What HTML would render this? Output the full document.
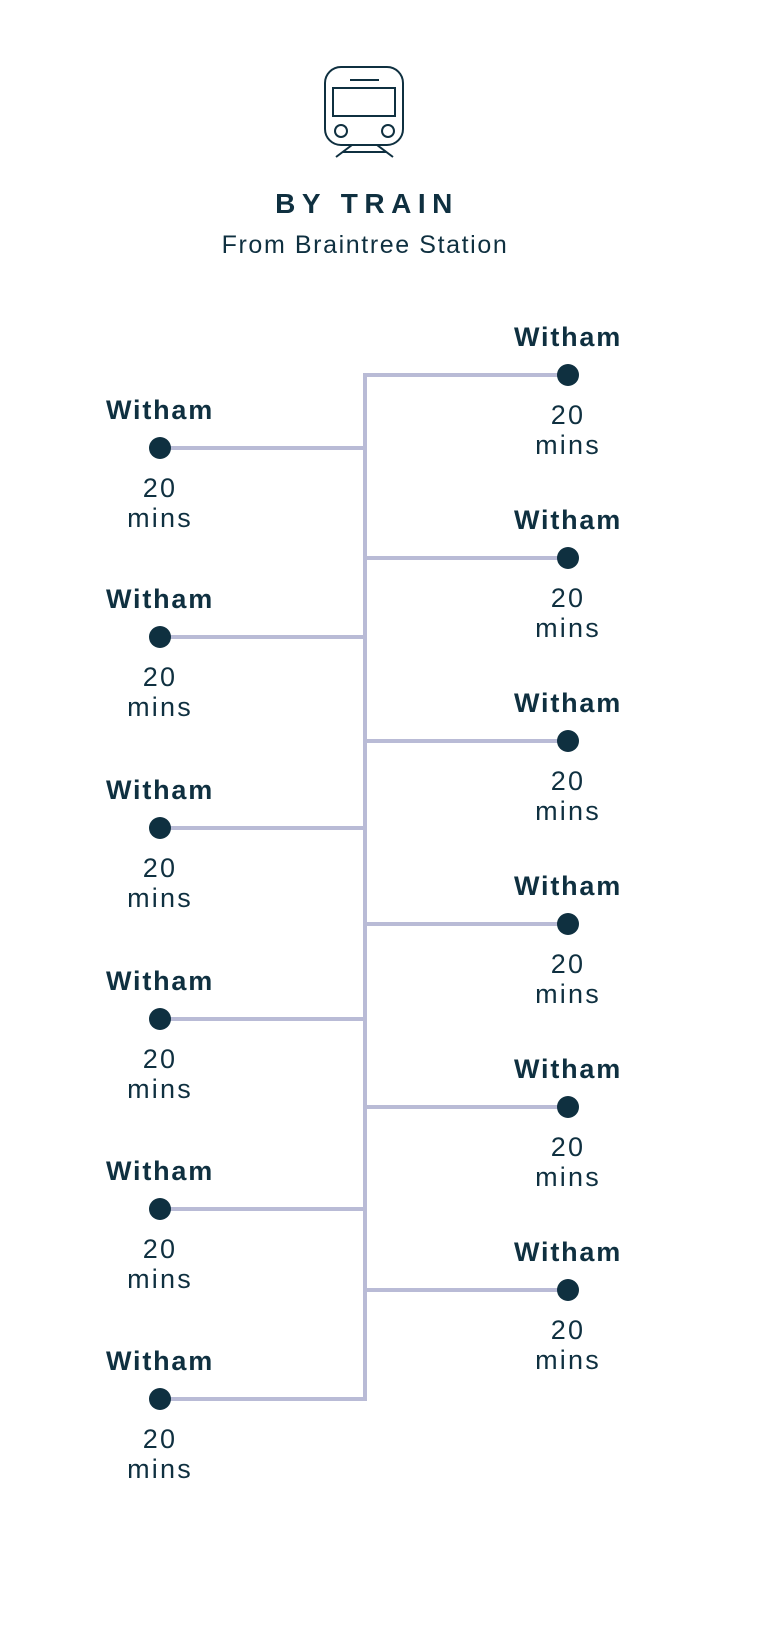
<!DOCTYPE html>
<html><head><style>
body{margin:0;background:#fff;}
svg{display:block}
text{font-family:"Liberation Sans",sans-serif;fill:#0f3040;text-anchor:middle}
.b{font-weight:bold;font-size:27px;letter-spacing:1.8px}
.n{font-size:27px;letter-spacing:2.2px}
</style></head><body>
<svg width="767" height="1650" viewBox="0 0 767 1650">
<g fill="none" stroke="#0f3040" stroke-width="2">
<rect x="325" y="67" width="78" height="78" rx="16"/>
<line x1="350" y1="80" x2="379" y2="80"/>
<rect x="333" y="88" width="62" height="28"/>
<circle cx="341" cy="131" r="6"/>
<circle cx="388" cy="131" r="6"/>
<line x1="352" y1="145" x2="336" y2="157"/>
<line x1="377" y1="145" x2="393" y2="157"/>
<line x1="343" y1="152" x2="386" y2="152"/>
</g>
<text x="367" y="213" style="font-weight:bold;font-size:28px;letter-spacing:6.5px">BY TRAIN</text>
<text x="365" y="253" style="font-size:25px;letter-spacing:1.6px">From Braintree Station</text>
<g stroke="#b9bbd6" stroke-width="4" fill="none">
<polyline points="568,375 365,375 365,1399 160,1399"/>
<line x1="160" y1="448" x2="365" y2="448"/>
<line x1="160" y1="637" x2="365" y2="637"/>
<line x1="160" y1="828" x2="365" y2="828"/>
<line x1="160" y1="1019" x2="365" y2="1019"/>
<line x1="160" y1="1209" x2="365" y2="1209"/>
<line x1="365" y1="558" x2="568" y2="558"/>
<line x1="365" y1="741" x2="568" y2="741"/>
<line x1="365" y1="924" x2="568" y2="924"/>
<line x1="365" y1="1107" x2="568" y2="1107"/>
<line x1="365" y1="1290" x2="568" y2="1290"/>
</g>
<g fill="#0f3040">
<circle cx="160" cy="448" r="11"/><circle cx="160" cy="637" r="11"/><circle cx="160" cy="828" r="11"/>
<circle cx="160" cy="1019" r="11"/><circle cx="160" cy="1209" r="11"/><circle cx="160" cy="1399" r="11"/>
<circle cx="568" cy="375" r="11"/><circle cx="568" cy="558" r="11"/><circle cx="568" cy="741" r="11"/>
<circle cx="568" cy="924" r="11"/><circle cx="568" cy="1107" r="11"/><circle cx="568" cy="1290" r="11"/>
</g>
<g id="L">
<text class="b" x="160" y="419">Witham</text><text class="n" x="160" y="497">20</text><text class="n" x="160" y="527">mins</text>
</g>
<use href="#L" y="189"/><use href="#L" y="380"/><use href="#L" y="571"/><use href="#L" y="761"/><use href="#L" y="951"/>
<g id="R">
<text class="b" x="568" y="346">Witham</text><text class="n" x="568" y="424">20</text><text class="n" x="568" y="454">mins</text>
</g>
<use href="#R" y="183"/><use href="#R" y="366"/><use href="#R" y="549"/><use href="#R" y="732"/><use href="#R" y="915"/>
</svg>
</body></html>
